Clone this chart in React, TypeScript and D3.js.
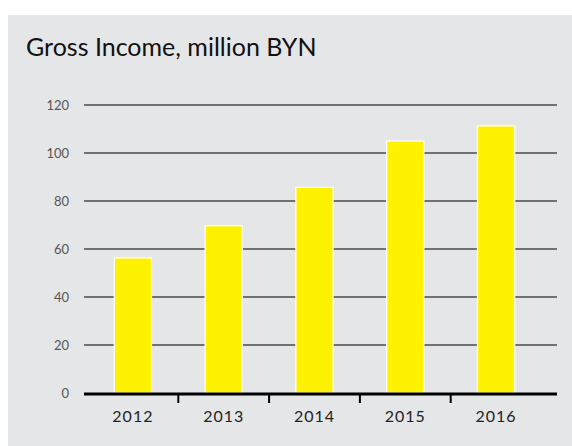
import React from "react";
import * as d3 from "d3";

const years = ["2012", "2013", "2014", "2015", "2016"];
const income = [56.3, 69.7, 85.7, 105.0, 111.3];
const yTicks = [0, 20, 40, 60, 80, 100, 120];
const title = "Gross Income, million BYN";

export default function App() {
  const W = 572, H = 446;
  const x = d3.scaleBand<string>().domain(years).range([87.5, 541.5]).paddingInner(0.59).paddingOuter(0.295);
  const xb = d3.scaleBand<string>().domain(years).range([87.5, 541.5]);
  const y = d3.scaleLinear().domain([0, 120]).range([393, 105]);
  return (
    <svg width={W} height={H} style={{ position: "absolute", left: 0, top: 0 }}>
      <rect x={8} y={15} width={W - 8} height={H - 15} fill="#e5e6e8" />
      <text x={26} y={56} fontFamily="Lato, 'Open Sans', sans-serif" fontSize={25} fill="#111">{title}</text>
      {yTicks.map(t => (
        <g key={t}>
          {t > 0 && <line x1={84} x2={557} y1={y(t)} y2={y(t)} stroke="#4a4a4a" strokeWidth={1.5} />}
          <text x={69} y={y(t)} dy="0.35em" textAnchor="end" fontFamily="Lato, 'Open Sans', sans-serif" fontSize={13} fill="#555">{t}</text>
        </g>
      ))}
      {years.map((yr, i) => (
        <rect key={yr} x={x(yr)!} y={y(income[i])} width={x.bandwidth()} height={y(0) - y(income[i])} fill="#fff200" stroke="#ffffff" strokeWidth={1.2} />
      ))}
      <line x1={84} x2={557} y1={394} y2={394} stroke="#000" strokeWidth={3} />
      {years.slice(1).map(yr => (
        <line key={yr} x1={xb(yr)!} x2={xb(yr)!} y1={394} y2={403} stroke="#000" strokeWidth={2} />
      ))}
      {years.map(yr => (
        <text key={yr} x={xb(yr)! + xb.bandwidth() / 2} y={422} textAnchor="middle" fontFamily="Lato, 'Open Sans', sans-serif" fontSize={16} letterSpacing={1} fill="#222">{yr}</text>
      ))}
    </svg>
  );
}
